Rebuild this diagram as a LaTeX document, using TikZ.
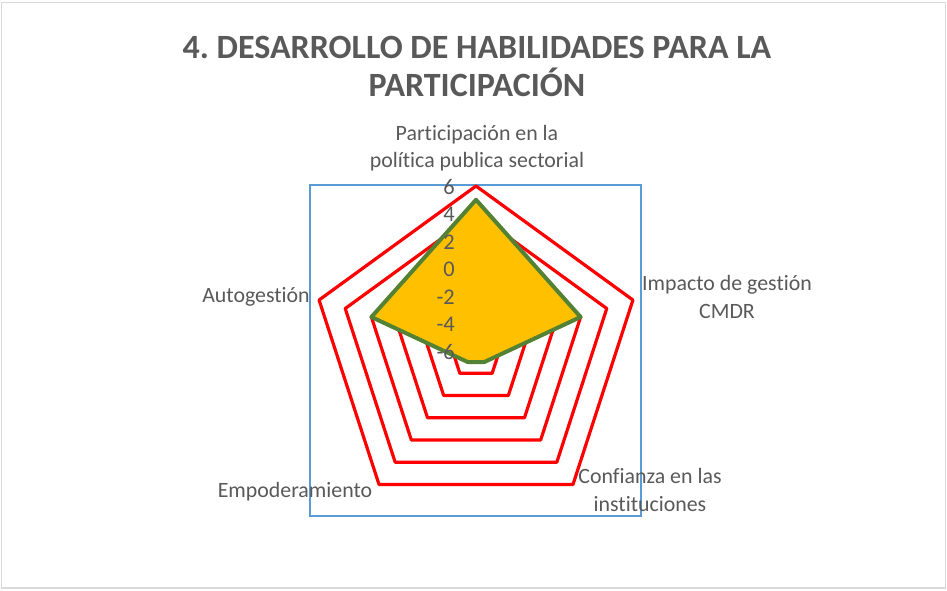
\documentclass[tikz,border=0pt]{standalone}
\usepackage{fontspec}
\setmainfont{Carlito}[Ligatures=NoCommon]
\usetikzlibrary{calc}
\frenchspacing
\definecolor{txtgray}{HTML}{595959}
\definecolor{framegray}{HTML}{D9D9D9}
\definecolor{ringred}{HTML}{FF0000}
\definecolor{areablue}{HTML}{5B9BD5}
\definecolor{dataorange}{HTML}{FFC000}
\definecolor{datagreen}{HTML}{548235}

\begin{document}
\begin{tikzpicture}[
  x=0.75pt, y=-0.75pt,
  titletext/.style={font=\bfseries\fontsize{25.5}{28.5}\selectfont, text=txtgray, align=center, inner sep=0pt},
  axislabel/.style={font=\fontsize{16.4}{20.3}\selectfont, text=txtgray, align=center, inner sep=0pt},
  ticklabel/.style={font=\fontsize{16.8}{20}\selectfont, text=txtgray, anchor=east, inner sep=0pt},
  ring/.style={draw=ringred, line width=2.4pt, line join=round},
  series/.style={draw=datagreen, fill=dataorange, line width=3pt, line join=round},
]
\useasboundingbox (0,0) rectangle (947,590);
\draw[framegray, line width=1.2pt] (1.5,2.5) rectangle (945.5,588);

\node[titletext] (title) at (477,66) {4. DESARROLLO DE HABILIDADES PARA LA\\PARTICIPACIÓN};

% plot area
\draw[areablue, line width=2.2pt] (310,185) rectangle (641,516);
\coordinate (c) at (476,351);

% grid rings, values -4 ... 6
\foreach \v in {-4,-2,...,6} {
  \pgfmathsetmacro\r{165*(\v+6)/12}
  \draw[ring] ($(c)+(-90:\r)$) -- ($(c)+(-18:\r)$) -- ($(c)+(54:\r)$)
    -- ($(c)+(126:\r)$) -- ($(c)+(198:\r)$) -- cycle;
}

% series: 5, 2, -5, -5, 2
\draw[series] ($(c)+(-90:151.25)$) -- ($(c)+(-18:110)$) -- ($(c)+(54:13.75)$)
  -- ($(c)+(126:13.75)$) -- ($(c)+(198:110)$) -- cycle;

% axis values
\foreach \v/\nm in {6/t6,4/t4,2/t2,0/t0,-2/tm2,-4/tm4,-6/tm6} {
  \pgfmathsetmacro\yy{351-165*(\v+6)/12+1}
  \node[ticklabel] (\nm) at (455,\yy) {\v};
}

% category labels
\node[axislabel] (lblpart) at (477,148) {Participación en la\\política publica sectorial};
\node[axislabel] (lblimp) at (727,297) {Impacto de gestión\\CMDR};
\node[axislabel] (lblconf) at (650,490) {Confianza en las\\instituciones};
\node[axislabel] (lblemp) at (295,492) {Empoderamiento};
\node[axislabel] (lblauto) at (256,297) {Autogestión};
\end{tikzpicture}
\end{document}
